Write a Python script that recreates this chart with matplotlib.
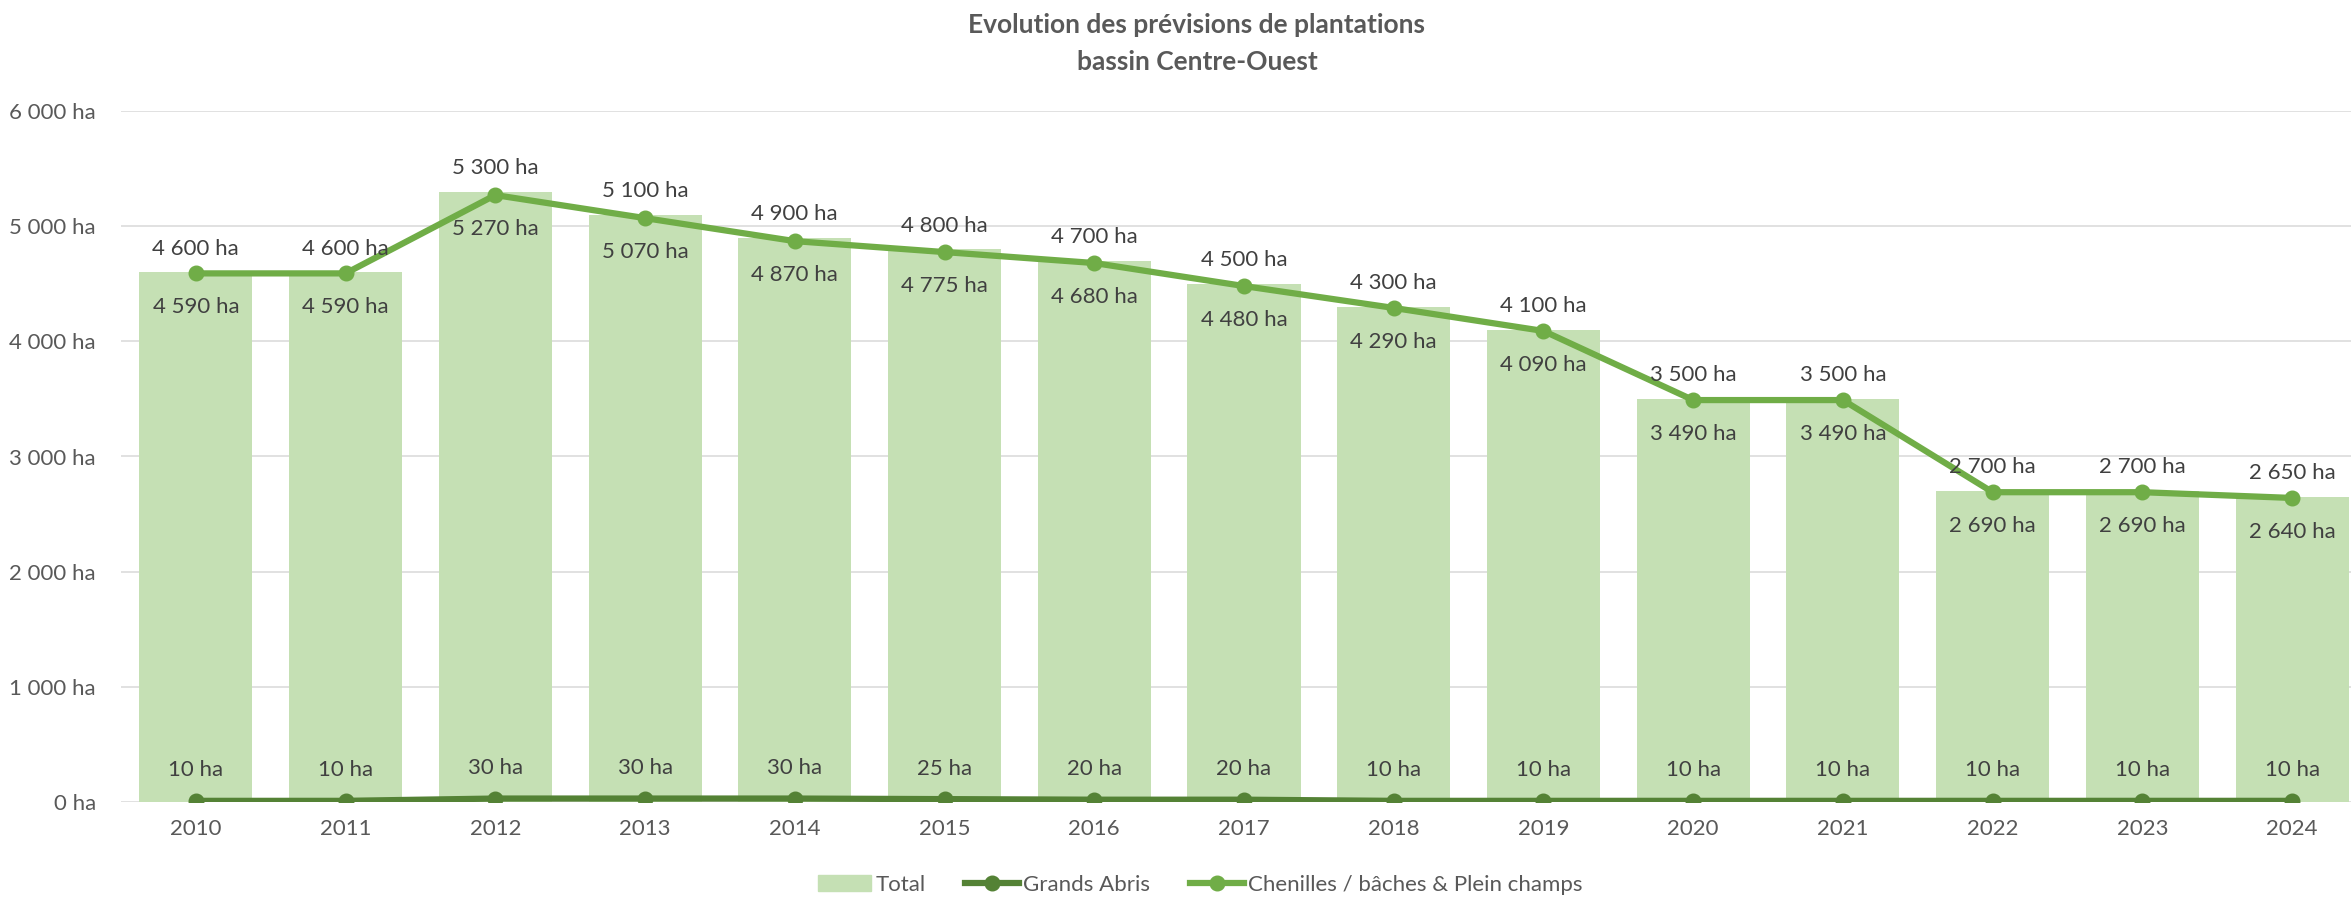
import matplotlib.pyplot as plt
import numpy as np
from matplotlib.patches import Patch
from matplotlib.lines import Line2D

plt.rcParams['font.family'] = ['Lato', 'DejaVu Sans']

# data
years = ['2010', '2011', '2012', '2013', '2014', '2015', '2016', '2017',
         '2018', '2019', '2020', '2021', '2022', '2023', '2024']
total = [4600, 4600, 5300, 5100, 4900, 4800, 4700, 4500, 4300, 4100,
         3500, 3500, 2700, 2700, 2650]
grands_abris = [10, 10, 30, 30, 30, 25, 20, 20, 10, 10, 10, 10, 10, 10, 10]
chenilles = [4590, 4590, 5270, 5070, 4870, 4775, 4680, 4480, 4290, 4090,
             3490, 3490, 2690, 2690, 2640]
yticks = [0, 1000, 2000, 3000, 4000, 5000, 6000]

c_bar = '#C5E0B4'
c_dark = '#548235'
c_light = '#70AD47'
c_text = '#404040'
c_axis = '#595959'
fs = 16


def fmt(v):
    return f'{v:,} ha'.replace(',', ' ')


W, H = 2351, 897
fig = plt.figure(figsize=(W / 100, H / 100), dpi=100)
ax = fig.add_axes([121 / W, 1 - 802 / H, (2367 - 121) / W, (802 - 111) / H])

x = np.arange(len(years))
ax.bar(x, total, width=0.755, color=c_bar, zorder=2)
ax.plot(x, grands_abris, color=c_dark, lw=4.5, marker='o', ms=10.5, zorder=3)
ax.plot(x, chenilles, color=c_light, lw=4.5, marker='o', ms=10.5, zorder=3)

for i in x:
    ax.annotate(fmt(total[i]), (i, total[i]), xytext=(0, 17), textcoords='offset points',
                ha='center', va='center', fontsize=fs, color=c_text, zorder=4)
    ax.annotate(fmt(chenilles[i]), (i, chenilles[i]), xytext=(0, -24.5), textcoords='offset points',
                ha='center', va='center', fontsize=fs, color=c_text, zorder=4)
    ax.annotate(fmt(grands_abris[i]), (i, grands_abris[i]), xytext=(0, 22), textcoords='offset points',
                ha='center', va='center', fontsize=fs, color=c_text, zorder=4)

ax.set_xlim(-0.5, len(years) - 0.5)
ax.set_ylim(0, 6000)
ax.set_yticks(yticks)
ax.set_yticklabels([fmt(v) for v in yticks])
ax.set_xticks(x)
ax.set_xticklabels(years)
ax.tick_params(axis='both', length=0, labelsize=fs, labelcolor=c_axis)
ax.tick_params(axis='y', pad=18)
ax.tick_params(axis='x', pad=12)
ax.grid(axis='y', color='#D9D9D9', lw=1.1, zorder=0)
ax.set_axisbelow(True)
for s in ax.spines.values():
    s.set_visible(False)

fig.text(1197 / W, 1 - 25 / H, 'Evolution des prévisions de plantations', ha='center', va='center',
         fontsize=19, fontweight='bold', color=c_axis)
fig.text(1197 / W, 1 - 62 / H, 'bassin Centre-Ouest', ha='center', va='center',
         fontsize=19, fontweight='bold', color=c_axis)

handles = [Patch(color=c_bar),
           Line2D([], [], color=c_dark, lw=4.5, marker='o', ms=10.5),
           Line2D([], [], color=c_light, lw=4.5, marker='o', ms=10.5)]
fig.legend(handles, ['Total', 'Grands Abris', 'Chenilles / bâches & Plein champs'],
           loc='center', bbox_to_anchor=(1200 / W, 1 - 885 / H), ncol=3, frameon=False,
           fontsize=fs, labelcolor=c_axis, handlelength=2.4, handletextpad=0.2, columnspacing=1.8)

fig.savefig('out.png', dpi=100)
